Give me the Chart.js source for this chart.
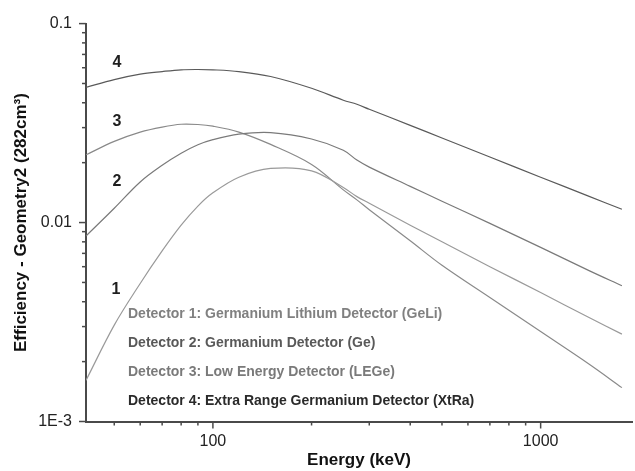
<!DOCTYPE html>
<html>
<head>
<meta charset="utf-8">
<script src="https://cdn.jsdelivr.net/npm/chart.js@4.4.1/dist/chart.umd.min.js"></script>
<style>
  html, body { margin: 0; padding: 0; background: #fff; }
  #wrap { width: 635px; height: 471px; }
</style>
</head>
<body>
<div id="wrap"><canvas id="chart"></canvas></div>
<script>
// energies in keV, efficiencies
const energies = [41, 50, 60, 70, 80, 90, 100, 120, 150, 200, 250, 275, 300, 400, 500, 700, 1000, 1400, 1770];
const geliEff = [0.00161, 0.00305, 0.00494, 0.0072, 0.0097, 0.0121, 0.0141, 0.0169, 0.0187, 0.0182, 0.0150, 0.0135, 0.0125, 0.0097, 0.0080, 0.0060, 0.00445, 0.00334, 0.00275];
const geEff = [0.00856, 0.0118, 0.0160, 0.0194, 0.0223, 0.0246, 0.0261, 0.0278, 0.0283, 0.0263, 0.0231, 0.0206, 0.0190, 0.0152, 0.0128, 0.0099, 0.0075, 0.00575, 0.00481];
const legeEff = [0.0219, 0.0256, 0.0285, 0.0302, 0.0312, 0.0311, 0.0305, 0.0285, 0.0247, 0.0196, 0.0146, 0.0130, 0.0116, 0.0081, 0.0061, 0.0042, 0.00283, 0.00195, 0.00148];
const xtraEff = [0.0478, 0.0523, 0.0557, 0.0574, 0.0586, 0.0588, 0.0586, 0.0574, 0.0542, 0.0473, 0.0412, 0.0393, 0.0371, 0.0308, 0.0266, 0.02135, 0.0169, 0.01358, 0.01166];

const detectorNames = [
  'Detector 1: Germanium Lithium Detector (GeLi)',
  'Detector 2: Germanium Detector (Ge)',
  'Detector 3: Low Energy Detector (LEGe)',
  'Detector 4: Extra Range Germanium Detector (XtRa)'
];
const curveTags = ['1', '2', '3', '4'];

const xTickValues = [100, 1000];
const xTickText = ['100', '1000'];
const yTickValues = [0.001, 0.01, 0.1];
const yTickText = ['1E-3', '0.01', '0.1'];

const FONT = '"Liberation Sans", Arial, sans-serif';

const points = ys => energies.map((e, i) => ({ x: e, y: ys[i] }));

// '' = unlabelled minor tick, null = hidden tick
function tickText(value, values, texts) {
  const i = values.findIndex(v => Math.abs(v - value) / v < 1e-6);
  if (i >= 0) return texts[i];
  const s = value / Math.pow(10, Math.floor(Math.log10(value) + 1e-9));
  return Math.abs(s - Math.round(s)) < 1e-6 ? '' : null;
}

const tickMarks = {
  id: 'tickMarks',
  afterDraw(chart) {
    const { ctx, chartArea, scales } = chart;
    ctx.save();
    ctx.strokeStyle = '#4a4a4a';
    ctx.lineWidth = 1.5;
    scales.y.ticks.forEach(t => {
      if (t.label === null || t.label === undefined) return;
      const py = scales.y.getPixelForValue(t.value);
      const len = t.label === '' ? 4 : 7;
      ctx.beginPath();
      ctx.moveTo(chartArea.left - len, py);
      ctx.lineTo(chartArea.left, py);
      ctx.stroke();
    });
    scales.x.ticks.forEach(t => {
      if (t.label === null || t.label === undefined) return;
      const px = scales.x.getPixelForValue(t.value);
      const len = t.label === '' ? 4 : 7;
      ctx.beginPath();
      ctx.moveTo(px, chartArea.bottom);
      ctx.lineTo(px, chartArea.bottom + len);
      ctx.stroke();
    });
    ctx.restore();
  }
};

const annotations = {
  id: 'annotations',
  afterDatasetsDraw(chart) {
    const { ctx, chartArea, scales: { x, y } } = chart;
    ctx.save();
    ctx.font = 'bold 16px ' + FONT;
    ctx.textAlign = 'center';
    ctx.textBaseline = 'middle';
    ctx.fillStyle = '#1e1e1e';
    chart.data.datasets.forEach(ds => {
      ctx.fillText(ds.tag, x.getPixelForValue(ds.tagAt[0]), y.getPixelForValue(ds.tagAt[1]));
    });
    ctx.font = 'bold 14px ' + FONT;
    ctx.textAlign = 'left';
    chart.data.datasets.forEach((ds, i) => {
      ctx.fillStyle = ds.textColor;
      ctx.fillText(ds.label, chartArea.left + 42, chartArea.top + 291 + i * 28.9);
    });
    ctx.restore();
  }
};

const lineStyle = {
  pointRadius: 0,
  borderWidth: 1.2,
  fill: false,
  tension: 0.35
};

new Chart(document.getElementById('chart'), {
  type: 'line',
  data: {
    datasets: [
      { ...lineStyle, label: detectorNames[0], data: points(geliEff), borderColor: '#9a9a9a', tag: curveTags[0], tagAt: [50.6, 0.0046], textColor: '#808080' },
      { ...lineStyle, label: detectorNames[1], data: points(geEff), borderColor: '#7a7a7a', tag: curveTags[1], tagAt: [51, 0.0160], textColor: '#595959' },
      { ...lineStyle, label: detectorNames[2], data: points(legeEff), borderColor: '#8a8a8a', tag: curveTags[2], tagAt: [51, 0.0320], textColor: '#7a7a7a' },
      { ...lineStyle, label: detectorNames[3], data: points(xtraEff), borderColor: '#5a5a5a', tag: curveTags[3], tagAt: [51, 0.0639], textColor: '#2a2a2a' }
    ]
  },
  options: {
    responsive: true,
    maintainAspectRatio: false,
    animation: false,
    layout: {
      padding: { left: 0, right: 3, top: 22, bottom: 0 }
    },
    plugins: {
      legend: { display: false },
      tooltip: { enabled: false }
    },
    scales: {
      x: {
        type: 'logarithmic',
        min: 41,
        max: 1900,
        grid: { display: false, drawTicks: false },
        border: { display: true, color: '#4a4a4a', width: 2 },
        ticks: {
          autoSkip: false,
          maxRotation: 0,
          padding: 10,
          color: '#222',
          font: { family: FONT, size: 16 },
          callback: value => tickText(value, xTickValues, xTickText)
        },
        title: {
          display: true,
          text: 'Energy (keV)',
          color: '#111',
          font: { family: FONT, size: 17, weight: 'bold' },
          padding: { top: 0, bottom: 0 }
        },
        afterFit: scale => { scale.height = 49.5; }
      },
      y: {
        type: 'logarithmic',
        min: 0.001,
        max: 0.1,
        grid: { display: false, drawTicks: false },
        border: { display: true, color: '#4a4a4a', width: 2 },
        ticks: {
          autoSkip: false,
          padding: 14,
          color: '#222',
          font: { family: FONT, size: 16 },
          callback: value => tickText(value, yTickValues, yTickText)
        },
        title: {
          display: true,
          text: 'Efficiency - Geometry2 (282cm³)',
          color: '#111',
          font: { family: FONT, size: 17, weight: 'bold' },
          padding: { top: 11, bottom: 0 }
        },
        afterFit: scale => { scale.width = 86; }
      }
    }
  },
  plugins: [tickMarks, annotations]
});
</script>
</body>
</html>
